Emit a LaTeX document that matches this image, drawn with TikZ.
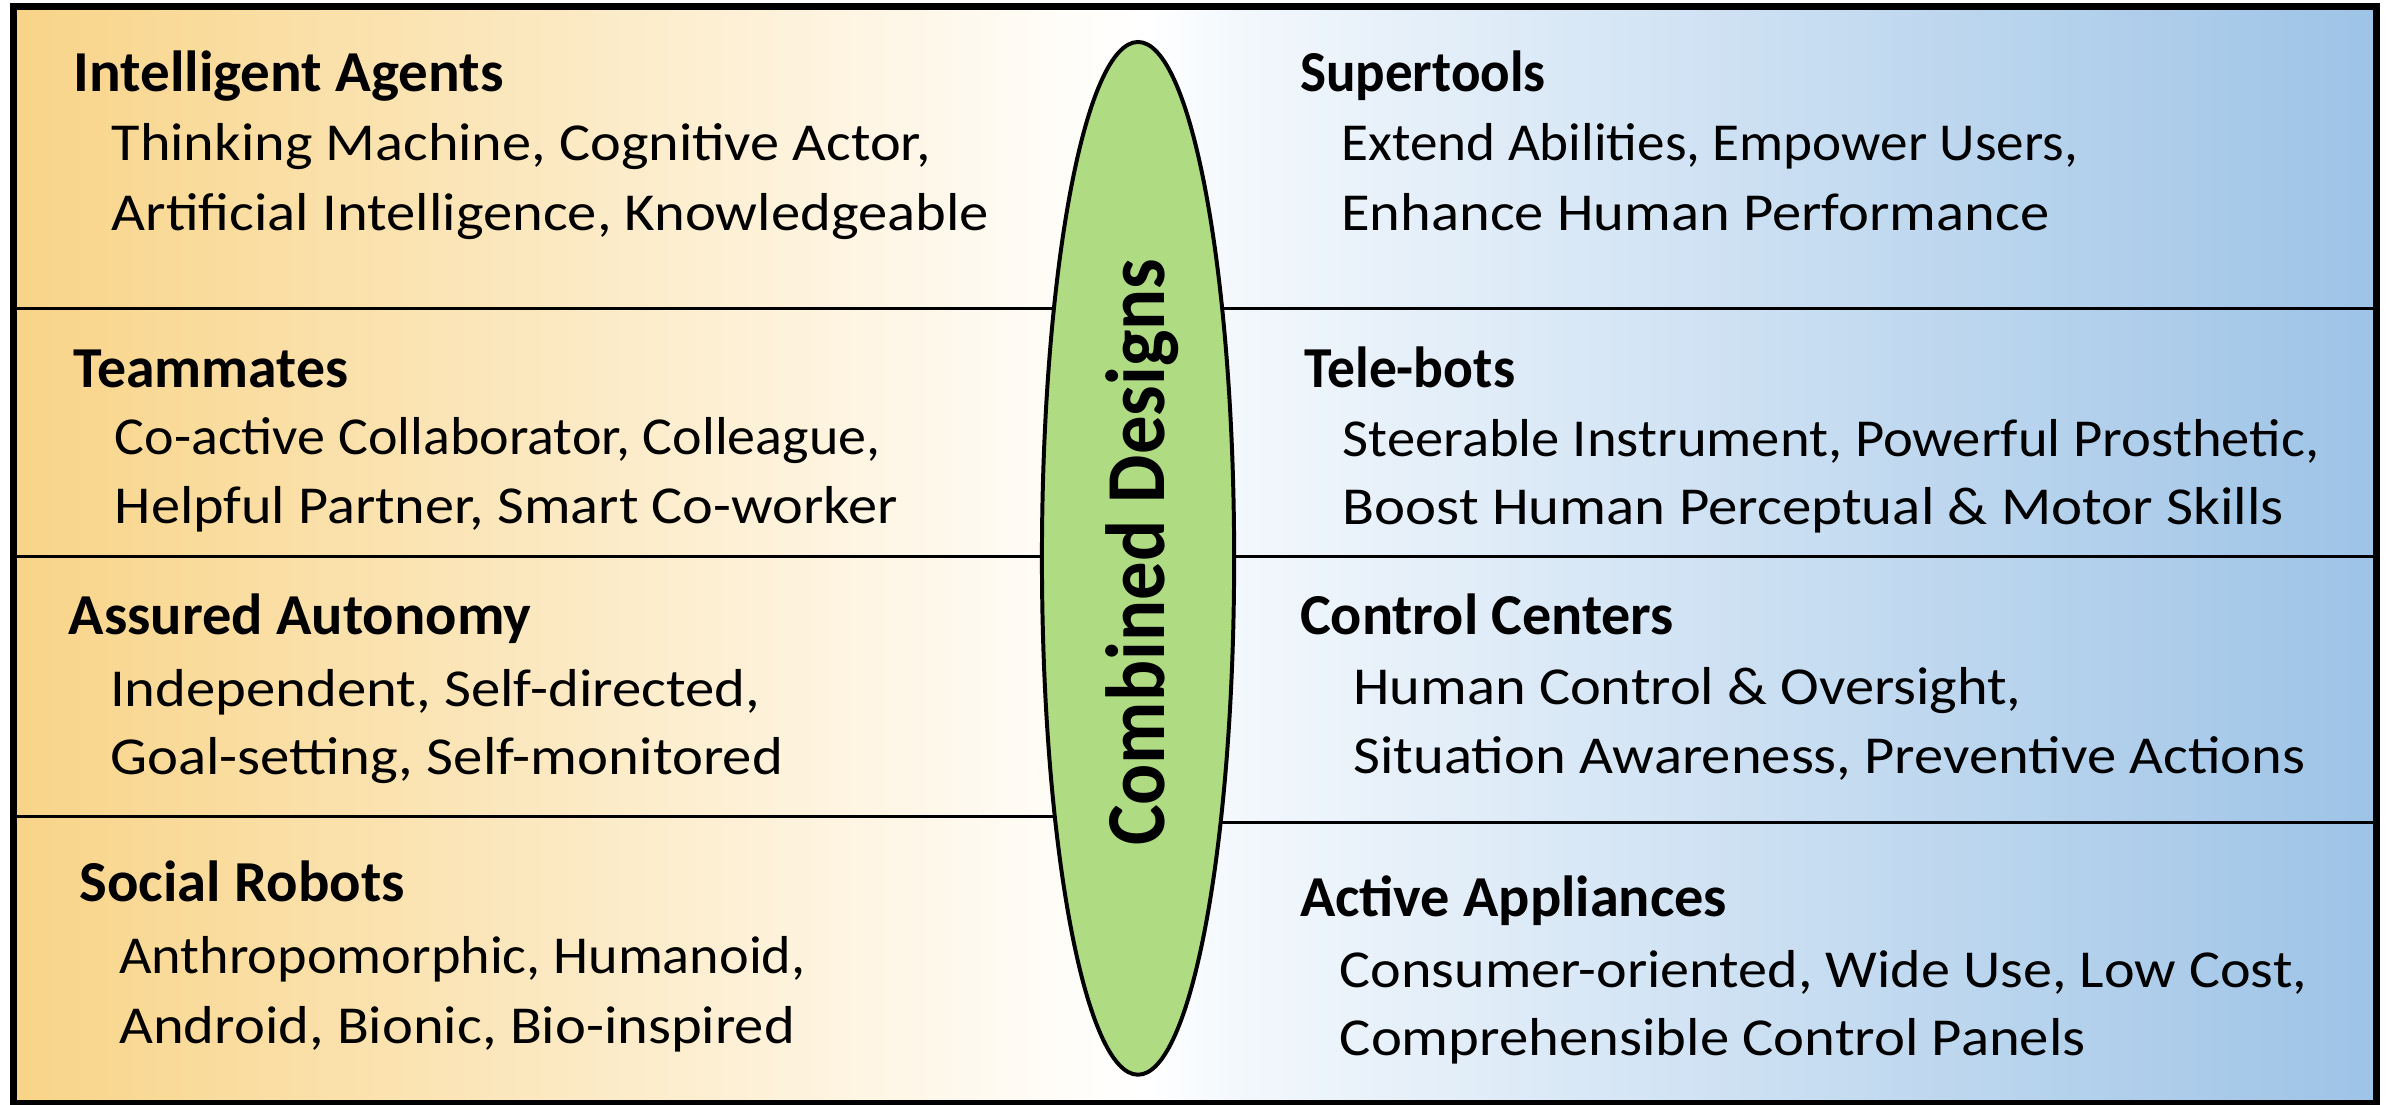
\documentclass[tikz,border=0pt]{standalone}
\usepackage{fontspec}
\setmainfont{Carlito}
\usepackage{graphicx}
\usetikzlibrary{shapes.geometric}
\definecolor{ellgreen}{RGB}{175,219,130}
\pgfdeclarehorizontalshading{bgshade}{100bp}{rgb(0bp)=(0.973,0.831,0.533); rgb(25bp)=(0.973,0.831,0.533); rgb(47bp)=(1,0.99,0.97); rgb(49bp)=(1,1,1); rgb(51bp)=(0.95,0.97,0.99); rgb(75bp)=(0.616,0.765,0.902); rgb(100bp)=(0.616,0.765,0.902)}
\newcommand\fitw[2]{\resizebox{#1}{\height}{#2}}
\tikzset{
  ttl/.style={font=\fontsize{38}{40}\selectfont\bfseries, inner sep=0pt, anchor=base west},
  bdy/.style={font=\fontsize{35}{37}\selectfont, inner sep=0pt, anchor=base west},
  divider/.style={line width=1.8pt, black},
  frameline/.style={line width=4.5pt, black},
  centerell/.style={ellipse, draw=black, fill=ellgreen, line width=2.6pt, minimum width=126pt, minimum height=677pt, inner sep=0pt}
}
\begin{document}
\begin{tikzpicture}[x=1pt,y=-1pt]
\useasboundingbox (0,0) rectangle (1568,724);
\fill[white] (0,0) rectangle (1568,724);
\shade[shading=bgshade] (9,4) rectangle (1558,723);
% dividers
\coordinate (dl1) at (9,202); \coordinate (dr1) at (1558,202);
\coordinate (dl2) at (9,365); \coordinate (dr2) at (1558,365);
\coordinate (dl3) at (9,535); \coordinate (dm3) at (746,535);
\coordinate (dn3) at (746,539); \coordinate (dr3) at (1558,539);
\draw[divider] (dl1) -- (dr1);
\draw[divider] (dl2) -- (dr2);
\draw[divider] (dl3) -- (dm3);
\draw[divider] (dn3) -- (dr3);
% ellipse
\node[centerell] (ell) at (746,366) {};
\node[rotate=90, font=\fontsize{55}{57}\selectfont\bfseries, inner sep=0pt] (cd) at (749,362) {\fitw{385pt}{Combined Designs}};
% frame
\draw[frameline] (9,4) rectangle (1558,723);
% left column
\node[ttl] (l1t) at (48,60) {\fitw{282pt}{Intelligent Agents}};
\node[bdy] (l1a) at (73,105) {\fitw{537pt}{Thinking Machine, Cognitive Actor,}};
\node[bdy] (l1b) at (73,151) {\fitw{575pt}{Artificial Intelligence, Knowledgeable}};
\node[ttl] (l2t) at (48,254) {\fitw{180pt}{Teammates}};
\node[bdy] (l2a) at (75,298) {\fitw{502pt}{Co-active Collaborator, Colleague,}};
\node[bdy] (l2b) at (75,343) {\fitw{513pt}{Helpful Partner, Smart Co-worker}};
\node[ttl] (l3t) at (45,416) {\fitw{303pt}{Assured Autonomy}};
\node[bdy] (l3a) at (72,463) {\fitw{426pt}{Independent, Self-directed,}};
\node[bdy] (l3b) at (72,508) {\fitw{441pt}{Goal-setting, Self-monitored}};
\node[ttl] (l4t) at (52,591) {\fitw{213pt}{Social Robots}};
\node[bdy] (l4a) at (78,638) {\fitw{450pt}{Anthropomorphic, Humanoid,}};
\node[bdy] (l4b) at (78,684) {\fitw{443pt}{Android, Bionic, Bio-inspired}};
% right column
\node[ttl] (r1t) at (852,60) {\fitw{161pt}{Supertools}};
\node[bdy] (r1a) at (879,105) {\fitw{483pt}{Extend Abilities, Empower Users,}};
\node[bdy] (r1b) at (879,151) {\fitw{464pt}{Enhance Human Performance}};
\node[ttl] (r2t) at (855,254) {\fitw{138pt}{Tele-bots}};
\node[bdy] (r2a) at (880,299) {\fitw{640pt}{Steerable Instrument, Powerful Prosthetic,}};
\node[bdy] (r2b) at (880,344) {\fitw{617pt}{Boost Human Perceptual \& Motor Skills}};
\node[ttl] (r3t) at (852,416) {\fitw{245pt}{Control Centers}};
\node[bdy] (r3a) at (887,462) {\fitw{438pt}{Human Control \& Oversight,}};
\node[bdy] (r3b) at (887,507) {\fitw{624pt}{Situation Awareness, Preventive Actions}};
\node[ttl] (r4t) at (852,601) {\fitw{280pt}{Active Appliances}};
\node[bdy] (r4a) at (878,647) {\fitw{634pt}{Consumer-oriented, Wide Use, Low Cost,}};
\node[bdy] (r4b) at (878,692) {\fitw{489pt}{Comprehensible Control Panels}};
\end{tikzpicture}
\end{document}
